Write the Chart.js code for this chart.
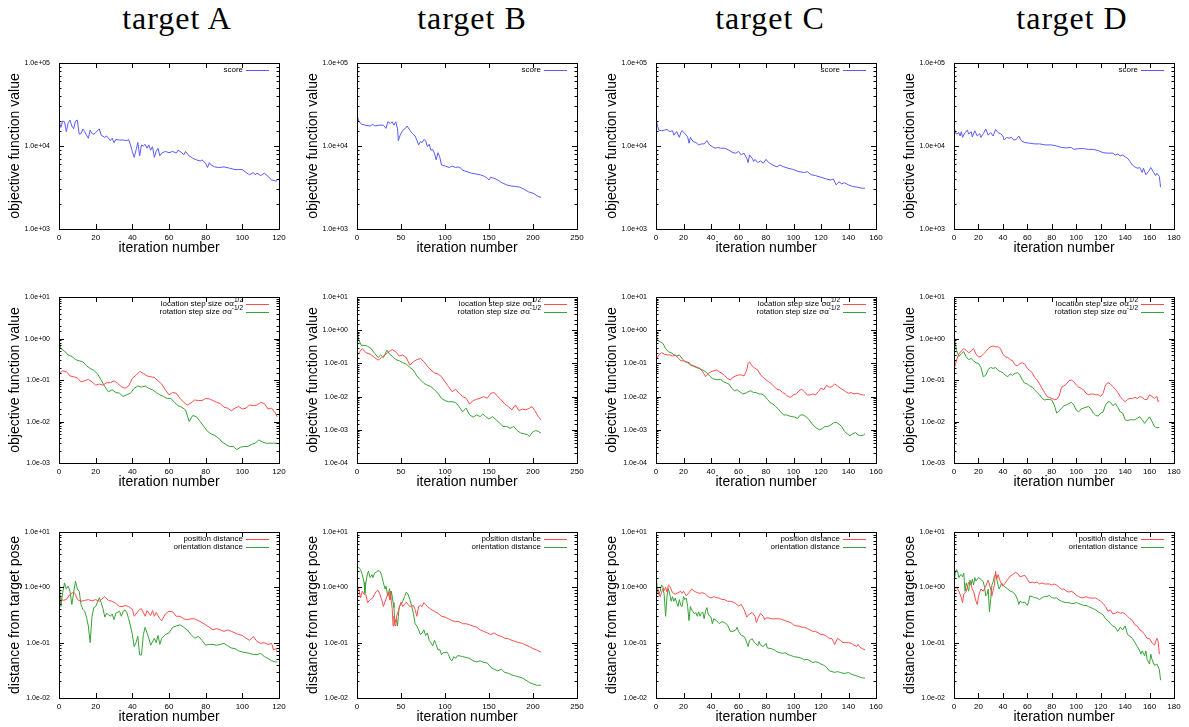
<!DOCTYPE html>
<html>
<head>
<meta charset="utf-8">
<script src="https://cdn.jsdelivr.net/npm/chart.js@4"></script>
<style>
  body { margin: 0; background: #fff; width: 1189px; height: 727px; overflow: hidden; position: relative; }
  canvas { position: absolute; }
  .head { position: absolute; top: 0; width: 200px; height: 36px; line-height: 36px; text-align: center;
          font-family: "Liberation Serif", serif; font-size: 32px; letter-spacing: 1px; color: #000; }
</style>
</head>
<body>
<div class="head" style="left:77px">target A</div>
<div class="head" style="left:372px">target B</div>
<div class="head" style="left:670px">target C</div>
<div class="head" style="left:972px">target D</div>
<script>
// ---- data: [iteration, value] ----

// row 1: score
const scoreA = [[0,20500],[1,16700],[2,20000],[3,19600],[4,14900],[5,19000],[6,20500],[7,17400],[8,16100],[9,20000],[10,20500],[11,13900],[12,14100],[13,16000],[14,14900],[15,13500],[16,12400],[17,15500],[18,14100],[19,13900],[20,14500],[22,16100],[23,13500],[25,12700],[26,13200],[28,11600],[29,12400],[30,11000],[31,12000],[33,11800],[35,11800],[37,11600],[38,12000],[39,10300],[40,8600],[41,7300],[42,8900],[43,11000],[44,7600],[45,10300],[46,10000],[47,10500],[48,9400],[49,10300],[50,8900],[51,9800],[52,7300],[53,8600],[54,9400],[55,7600],[56,8200],[58,8600],[60,8300],[62,8600],[64,8200],[65,8900],[67,8300],[68,7800],[69,8600],[71,7600],[73,7100],[75,6800],[77,6600],[78,6800],[80,6200],[81,5500],[82,6300],[83,5900],[85,5600],[87,5500],[90,5600],[93,5400],[96,5200],[98,5200],[100,5200],[102,4800],[104,4500],[106,4800],[107,4500],[108,4700],[110,4400],[112,4700],[114,4300],[116,3900],[118,3800],[119,3800]];
const scoreB = [[0,23500],[2,20000],[5,18300],[10,17800],[15,17400],[18,18300],[20,17400],[25,17800],[30,17800],[33,16300],[35,19600],[38,18700],[40,19600],[42,17800],[44,19600],[46,16300],[47,11600],[49,13500],[52,15500],[55,16300],[57,17400],[60,15500],[63,14100],[66,13200],[68,11800],[70,10300],[72,11300],[74,11000],[76,12000],[78,11600],[80,9800],[82,10500],[84,8900],[86,9100],[88,8200],[90,6800],[92,8300],[94,7400],[96,5900],[100,5750],[105,5500],[108,5750],[112,5500],[115,5600],[118,5400],[120,5100],[125,4900],[130,4700],[135,4600],[140,4500],[145,4300],[148,4100],[150,3900],[152,4200],[155,4100],[160,3900],[163,3700],[165,3600],[170,3400],[175,3300],[180,3250],[185,3200],[190,3000],[195,2800],[200,2700],[205,2500],[209,2400]];
const scoreC = [[0,21400],[1,17800],[2,15500],[4,15300],[6,15500],[8,15800],[10,14900],[12,15300],[13,13500],[15,14900],[17,12700],[18,14500],[19,15300],[21,14100],[23,12900],[24,10800],[25,12700],[27,11300],[29,11000],[31,10300],[33,10600],[35,10600],[37,11600],[39,10300],[41,9800],[43,9400],[45,9600],[47,9400],[50,9400],[53,8900],[56,8300],[58,8200],[60,8600],[62,7800],[64,8200],[66,7100],[67,6300],[68,7800],[70,7100],[71,6500],[72,6900],[74,6300],[76,6600],[78,6200],[80,6900],[82,6300],[85,5900],[88,5600],[90,5900],[93,5600],[96,5400],[100,5200],[104,4900],[108,4800],[110,4900],[113,4500],[116,4400],[120,4200],[124,4000],[127,3900],[129,4000],[131,3400],[133,3700],[135,3500],[137,3600],[140,3400],[143,3250],[146,3200],[150,3100],[152,3100]];
const scoreD = [[0,17400],[1,14900],[2,13900],[4,14500],[5,13200],[6,14900],[7,12700],[9,14500],[11,15500],[12,13900],[14,14900],[15,12900],[17,15300],[19,13200],[21,14100],[22,12700],[24,14100],[26,16000],[28,13500],[30,14500],[32,13200],[34,15800],[36,14500],[38,14100],[40,13200],[41,11800],[43,12700],[45,12400],[47,12700],[49,11800],[51,12000],[53,13200],[55,11600],[58,11000],[62,10800],[66,10600],[70,10600],[75,10300],[80,10300],[84,10000],[88,9600],[92,9500],[96,9600],[98,9100],[102,9300],[106,9300],[110,9100],[114,9100],[118,8800],[122,8300],[126,8200],[130,8200],[132,7800],[134,8000],[136,7600],[138,7800],[140,7400],[142,7100],[144,6500],[146,5900],[148,5600],[150,5400],[152,5500],[154,4800],[155,5400],[157,4500],[159,4900],[161,5500],[163,4900],[165,4400],[166,4700],[168,4300],[169,3200]];

// row 2: step sizes
const locA = [[0,0.145],[2,0.167],[4,0.16],[6,0.125],[8,0.12],[10,0.113],[12,0.09],[14,0.096],[16,0.104],[18,0.09],[20,0.075],[22,0.08],[24,0.075],[26,0.086],[28,0.086],[30,0.096],[32,0.083],[34,0.069],[36,0.063],[38,0.072],[40,0.11],[42,0.13],[44,0.16],[46,0.145],[48,0.125],[50,0.12],[52,0.115],[54,0.096],[56,0.08],[58,0.058],[60,0.044],[62,0.05],[64,0.048],[66,0.036],[68,0.029],[70,0.025],[72,0.028],[74,0.033],[76,0.032],[78,0.032],[80,0.036],[82,0.035],[84,0.032],[86,0.029],[88,0.027],[90,0.022],[92,0.021],[94,0.018],[96,0.021],[98,0.023],[100,0.02],[102,0.021],[104,0.025],[106,0.024],[108,0.025],[110,0.029],[112,0.027],[114,0.02],[116,0.021],[118,0.016],[119,0.013]];
const rotA = [[0,1.0],[1,0.57],[3,0.5],[5,0.4],[7,0.37],[9,0.31],[11,0.29],[13,0.275],[15,0.22],[17,0.19],[19,0.17],[21,0.14],[23,0.1],[25,0.069],[27,0.052],[29,0.058],[31,0.05],[33,0.048],[35,0.04],[37,0.044],[39,0.048],[41,0.063],[43,0.072],[45,0.067],[47,0.072],[49,0.063],[51,0.058],[53,0.05],[55,0.044],[57,0.04],[59,0.036],[61,0.036],[63,0.029],[65,0.024],[67,0.022],[69,0.019],[71,0.01],[73,0.014],[75,0.013],[77,0.01],[79,0.0076],[81,0.0058],[83,0.005],[85,0.0046],[87,0.004],[89,0.0032],[91,0.0028],[93,0.0025],[95,0.0025],[97,0.0021],[99,0.0024],[101,0.0025],[103,0.0025],[105,0.0028],[107,0.003],[109,0.0036],[111,0.0032],[113,0.003],[115,0.003],[117,0.003],[119,0.003]];
const locB = [[0,0.166],[3,0.224],[6,0.28],[10,0.21],[15,0.19],[20,0.15],[24,0.126],[28,0.15],[32,0.18],[36,0.224],[40,0.26],[44,0.224],[48,0.166],[52,0.18],[56,0.15],[60,0.089],[64,0.112],[68,0.13],[72,0.14],[76,0.112],[80,0.083],[84,0.063],[88,0.052],[92,0.048],[96,0.04],[100,0.028],[104,0.02],[108,0.014],[112,0.0166],[116,0.0126],[120,0.01],[124,0.0089],[128,0.006],[132,0.0076],[136,0.0083],[140,0.0089],[144,0.01],[148,0.0089],[152,0.0126],[156,0.0132],[160,0.01],[164,0.0079],[168,0.006],[172,0.005],[176,0.004],[180,0.0056],[184,0.0038],[188,0.0042],[192,0.004],[196,0.0045],[199,0.005],[202,0.0038],[206,0.0025],[209,0.002]];
const rotB = [[0,1.0],[2,0.5],[5,0.35],[8,0.35],[12,0.33],[16,0.28],[20,0.2],[24,0.15],[27,0.18],[30,0.15],[34,0.25],[37,0.19],[40,0.166],[44,0.13],[48,0.12],[52,0.105],[56,0.095],[60,0.076],[64,0.063],[68,0.042],[72,0.032],[76,0.025],[80,0.022],[84,0.02],[88,0.016],[92,0.0126],[96,0.0089],[100,0.0076],[104,0.007],[108,0.007],[112,0.0066],[116,0.005],[120,0.0035],[124,0.0045],[128,0.0028],[132,0.0024],[136,0.0028],[140,0.0025],[143,0.003],[146,0.0025],[150,0.0021],[154,0.0025],[158,0.002],[162,0.0016],[166,0.00126],[170,0.00126],[174,0.0011],[178,0.00126],[182,0.00095],[186,0.0008],[190,0.00076],[194,0.0007],[196,0.00063],[199,0.00083],[203,0.00095],[206,0.0009],[209,0.0008]];
const locC = [[0,0.13],[2,0.18],[4,0.21],[6,0.19],[8,0.18],[10,0.18],[12,0.166],[14,0.18],[16,0.15],[18,0.12],[20,0.12],[22,0.112],[24,0.105],[26,0.089],[28,0.083],[30,0.076],[32,0.071],[34,0.056],[36,0.04],[38,0.05],[40,0.056],[42,0.06],[44,0.063],[46,0.056],[48,0.05],[50,0.042],[52,0.035],[54,0.032],[56,0.038],[58,0.042],[60,0.045],[62,0.045],[64,0.042],[66,0.063],[67,0.1],[68,0.112],[70,0.083],[72,0.071],[74,0.063],[76,0.045],[78,0.038],[80,0.032],[82,0.028],[84,0.024],[86,0.02],[88,0.0166],[90,0.016],[92,0.0132],[94,0.012],[96,0.01],[98,0.0095],[100,0.0112],[102,0.012],[104,0.015],[106,0.0166],[108,0.014],[110,0.0112],[112,0.0112],[114,0.012],[116,0.0112],[118,0.014],[120,0.018],[122,0.016],[124,0.022],[126,0.019],[128,0.02],[130,0.024],[132,0.021],[134,0.018],[136,0.016],[138,0.014],[140,0.0126],[142,0.0132],[144,0.012],[146,0.0126],[148,0.012],[150,0.0112],[152,0.0112]];
const rotC = [[0,1.0],[1,0.5],[3,0.45],[5,0.4],[7,0.28],[9,0.224],[11,0.21],[13,0.18],[15,0.166],[17,0.18],[19,0.14],[21,0.112],[23,0.105],[25,0.089],[27,0.083],[29,0.076],[31,0.071],[33,0.066],[35,0.06],[37,0.052],[39,0.042],[41,0.035],[43,0.033],[45,0.032],[47,0.033],[49,0.028],[51,0.026],[53,0.024],[55,0.018],[57,0.015],[59,0.016],[61,0.014],[63,0.012],[65,0.0126],[67,0.014],[69,0.015],[71,0.0132],[73,0.0132],[75,0.012],[77,0.012],[79,0.0105],[81,0.0083],[83,0.0066],[85,0.006],[87,0.005],[89,0.0042],[91,0.0033],[93,0.0028],[95,0.0028],[97,0.0026],[99,0.0025],[101,0.0024],[103,0.0022],[105,0.0028],[107,0.0028],[109,0.0025],[111,0.0021],[113,0.0016],[115,0.0013],[117,0.0011],[119,0.001],[121,0.0011],[123,0.00126],[125,0.00126],[127,0.0014],[129,0.0016],[131,0.0017],[133,0.0015],[135,0.00126],[137,0.0009],[139,0.00076],[141,0.00066],[143,0.00076],[145,0.00083],[147,0.0007],[149,0.00066],[151,0.0007],[152,0.00076]];
const locD = [[0,0.174],[2,0.3],[4,0.42],[6,0.5],[8,0.57],[10,0.52],[12,0.45],[14,0.5],[16,0.57],[18,0.42],[20,0.36],[22,0.37],[24,0.42],[26,0.48],[28,0.57],[30,0.63],[32,0.66],[34,0.63],[36,0.63],[38,0.57],[40,0.42],[42,0.36],[44,0.35],[46,0.31],[48,0.29],[50,0.23],[52,0.22],[54,0.25],[56,0.26],[58,0.24],[60,0.19],[62,0.17],[64,0.15],[66,0.115],[68,0.1],[70,0.08],[72,0.063],[74,0.05],[76,0.04],[78,0.038],[80,0.036],[82,0.034],[84,0.034],[86,0.041],[88,0.067],[90,0.072],[92,0.08],[94,0.096],[96,0.1],[98,0.091],[100,0.076],[102,0.067],[104,0.063],[106,0.058],[108,0.048],[110,0.044],[112,0.046],[114,0.046],[116,0.044],[118,0.044],[120,0.04],[122,0.048],[124,0.076],[126,0.086],[128,0.08],[130,0.069],[132,0.06],[134,0.05],[136,0.04],[138,0.034],[140,0.03],[142,0.034],[144,0.036],[146,0.036],[148,0.038],[150,0.036],[152,0.04],[154,0.038],[156,0.034],[158,0.034],[160,0.044],[162,0.04],[164,0.036],[166,0.04],[167,0.03],[168,0.032]];
const rotD = [[0,1.3],[1,0.8],[2,0.52],[4,0.37],[6,0.43],[8,0.48],[10,0.36],[12,0.31],[14,0.33],[16,0.29],[18,0.26],[20,0.25],[22,0.2],[24,0.12],[26,0.13],[28,0.18],[30,0.2],[32,0.19],[34,0.2],[36,0.17],[38,0.16],[40,0.15],[42,0.13],[44,0.12],[46,0.14],[48,0.13],[50,0.145],[52,0.15],[54,0.13],[56,0.1],[58,0.083],[60,0.08],[62,0.072],[64,0.067],[66,0.058],[68,0.05],[70,0.044],[72,0.036],[74,0.033],[76,0.034],[78,0.034],[80,0.033],[82,0.025],[84,0.016],[86,0.018],[88,0.021],[90,0.024],[92,0.025],[94,0.027],[96,0.029],[98,0.025],[100,0.019],[102,0.017],[104,0.02],[106,0.021],[108,0.022],[110,0.023],[112,0.02],[114,0.016],[116,0.014],[118,0.0135],[120,0.016],[122,0.017],[124,0.025],[126,0.03],[128,0.029],[130,0.024],[132,0.027],[134,0.022],[136,0.017],[138,0.016],[140,0.011],[142,0.0105],[144,0.011],[146,0.011],[148,0.011],[150,0.012],[152,0.013],[154,0.011],[156,0.009],[158,0.011],[160,0.013],[162,0.01],[164,0.0076],[166,0.0071],[168,0.0071]];

// row 3: distance from target pose
const posA = [[0,0.695],[1,0.65],[2,0.58],[4,0.6],[6,0.75],[8,0.82],[9,0.75],[10,0.6],[12,0.56],[14,0.58],[16,0.6],[18,0.57],[20,0.6],[22,0.56],[24,0.64],[25,0.68],[27,0.58],[29,0.56],[31,0.51],[33,0.45],[35,0.45],[36,0.47],[38,0.45],[40,0.4],[41,0.3],[42,0.33],[44,0.4],[45,0.41],[46,0.35],[47,0.3],[48,0.38],[50,0.31],[51,0.38],[52,0.3],[53,0.35],[55,0.27],[56,0.25],[58,0.33],[60,0.37],[62,0.36],[64,0.3],[66,0.3],[68,0.27],[70,0.26],[72,0.27],[74,0.27],[76,0.25],[78,0.23],[80,0.21],[82,0.19],[84,0.17],[86,0.18],[88,0.17],[90,0.16],[92,0.17],[94,0.16],[96,0.15],[98,0.14],[100,0.135],[102,0.12],[104,0.11],[106,0.13],[108,0.105],[110,0.097],[112,0.1],[114,0.093],[116,0.097],[117,0.074],[118,0.078],[119,0.071]];
const oriA = [[0,1.7],[1,0.45],[2,0.8],[3,1.2],[4,0.93],[5,1.05],[6,0.85],[7,0.49],[8,0.8],[9,1.3],[10,0.93],[11,0.85],[12,0.49],[13,0.4],[14,0.37],[15,0.29],[16,0.2],[17,0.1],[18,0.3],[19,0.43],[20,0.45],[21,0.54],[22,0.65],[23,0.53],[24,0.41],[25,0.29],[26,0.34],[27,0.32],[28,0.3],[29,0.33],[30,0.26],[31,0.34],[33,0.37],[34,0.3],[35,0.37],[36,0.39],[37,0.35],[38,0.27],[39,0.2],[40,0.14],[41,0.085],[42,0.1],[43,0.13],[44,0.06],[45,0.06],[46,0.14],[47,0.19],[48,0.15],[49,0.12],[50,0.09],[52,0.12],[53,0.1],[54,0.135],[55,0.093],[56,0.12],[58,0.14],[60,0.15],[62,0.19],[64,0.2],[66,0.21],[68,0.19],[70,0.17],[72,0.14],[74,0.12],[76,0.13],[78,0.11],[80,0.09],[82,0.093],[84,0.093],[86,0.09],[88,0.093],[90,0.097],[92,0.088],[94,0.08],[96,0.078],[98,0.071],[100,0.068],[102,0.066],[104,0.064],[106,0.061],[108,0.061],[110,0.064],[112,0.056],[114,0.052],[116,0.047],[118,0.045],[119,0.045]];
const posB = [[0,1.1],[2,0.93],[4,0.65],[6,0.85],[8,0.75],[10,0.75],[12,0.53],[15,0.6],[18,0.65],[20,0.75],[22,0.85],[24,0.88],[26,0.75],[28,0.6],[30,0.45],[32,0.56],[34,0.68],[35,0.8],[36,0.82],[37,0.6],[38,0.85],[39,0.56],[40,0.41],[41,0.2],[42,0.3],[43,0.21],[44,0.2],[45,0.3],[46,0.33],[48,0.43],[50,0.54],[52,0.45],[54,0.49],[56,0.54],[58,0.49],[60,0.45],[62,0.46],[64,0.47],[66,0.4],[68,0.3],[70,0.45],[72,0.47],[74,0.45],[76,0.53],[78,0.49],[80,0.45],[84,0.4],[88,0.37],[92,0.34],[96,0.3],[100,0.29],[104,0.27],[108,0.25],[112,0.24],[116,0.24],[120,0.22],[124,0.22],[128,0.21],[132,0.2],[136,0.19],[140,0.17],[144,0.16],[148,0.15],[152,0.14],[156,0.15],[160,0.135],[164,0.13],[168,0.12],[172,0.118],[176,0.11],[180,0.105],[184,0.1],[188,0.097],[192,0.09],[196,0.085],[200,0.078],[204,0.074],[206,0.071],[209,0.068]];
const oriB = [[0,2.2],[2,2.3],[4,2.1],[6,1.7],[8,1.25],[9,0.78],[10,1.2],[12,1.8],[13,1.95],[15,1.5],[17,1.7],[18,1.5],[20,1.8],[22,1.9],[24,2.0],[26,1.95],[28,1.65],[30,1.2],[32,0.93],[33,1.05],[35,0.69],[36,0.8],[37,0.95],[38,0.6],[39,0.85],[40,0.69],[41,0.53],[42,0.43],[43,0.23],[44,0.26],[45,0.26],[46,0.2],[47,0.3],[48,0.45],[50,0.49],[52,0.56],[54,0.68],[56,0.82],[58,0.75],[60,0.6],[62,0.47],[64,0.34],[66,0.22],[68,0.2],[70,0.17],[72,0.14],[74,0.15],[76,0.17],[78,0.135],[80,0.15],[82,0.11],[84,0.1],[86,0.088],[88,0.11],[90,0.093],[92,0.074],[94,0.075],[96,0.061],[98,0.066],[100,0.066],[102,0.068],[104,0.061],[106,0.05],[108,0.047],[110,0.056],[112,0.052],[114,0.058],[116,0.058],[120,0.056],[124,0.054],[128,0.052],[132,0.047],[136,0.045],[140,0.047],[144,0.044],[148,0.043],[152,0.036],[156,0.033],[160,0.031],[164,0.033],[168,0.029],[172,0.028],[176,0.026],[180,0.025],[184,0.024],[188,0.023],[192,0.021],[196,0.019],[200,0.018],[204,0.017],[206,0.017],[209,0.017]];
const posC = [[0,0.93],[1,1.0],[2,0.78],[3,0.68],[4,0.8],[5,0.95],[6,0.88],[7,1.0],[8,0.82],[9,1.1],[10,1.05],[11,0.93],[12,0.8],[14,0.75],[16,0.8],[18,0.85],[19,0.78],[20,0.85],[21,0.78],[22,0.7],[24,0.8],[26,0.93],[28,0.85],[30,0.8],[32,0.78],[34,0.8],[36,0.75],[38,0.68],[40,0.64],[42,0.68],[44,0.65],[46,0.64],[48,0.6],[50,0.6],[52,0.56],[54,0.56],[56,0.54],[58,0.51],[60,0.46],[62,0.49],[64,0.4],[66,0.29],[68,0.33],[70,0.35],[72,0.3],[73,0.23],[74,0.27],[76,0.34],[78,0.3],[79,0.26],[80,0.28],[82,0.28],[84,0.27],[86,0.27],[88,0.27],[90,0.27],[92,0.26],[94,0.25],[96,0.24],[98,0.23],[100,0.21],[102,0.2],[104,0.2],[106,0.19],[108,0.19],[110,0.18],[112,0.17],[114,0.16],[116,0.16],[118,0.15],[120,0.14],[122,0.14],[124,0.13],[126,0.12],[128,0.118],[130,0.093],[131,0.105],[132,0.12],[134,0.11],[136,0.1],[138,0.1],[140,0.1],[142,0.097],[144,0.09],[146,0.085],[147,0.093],[148,0.085],[150,0.078],[152,0.074]];
const oriC = [[0,1.95],[1,0.85],[2,0.75],[3,0.85],[4,1.1],[5,1.05],[6,0.71],[7,0.3],[8,0.7],[9,0.95],[10,0.75],[11,0.56],[12,0.68],[13,0.56],[14,0.64],[15,0.53],[16,0.45],[17,0.6],[18,0.47],[19,0.45],[20,0.68],[21,0.6],[22,0.64],[23,0.45],[24,0.25],[25,0.45],[26,0.39],[27,0.36],[28,0.33],[29,0.35],[30,0.3],[31,0.36],[32,0.3],[33,0.34],[34,0.36],[35,0.27],[36,0.37],[37,0.43],[38,0.33],[39,0.3],[40,0.29],[41,0.22],[42,0.27],[44,0.25],[46,0.22],[48,0.24],[50,0.23],[52,0.21],[54,0.16],[56,0.16],[58,0.17],[59,0.19],[60,0.16],[62,0.135],[64,0.13],[65,0.118],[66,0.1],[67,0.085],[68,0.11],[70,0.118],[71,0.105],[72,0.1],[74,0.088],[75,0.105],[76,0.09],[78,0.085],[80,0.097],[81,0.08],[84,0.078],[86,0.074],[88,0.068],[90,0.066],[92,0.064],[94,0.066],[96,0.061],[98,0.059],[100,0.056],[104,0.054],[106,0.052],[108,0.049],[110,0.05],[112,0.047],[114,0.044],[116,0.045],[118,0.044],[120,0.041],[122,0.039],[124,0.036],[126,0.031],[128,0.03],[130,0.029],[132,0.03],[134,0.029],[136,0.028],[138,0.028],[140,0.029],[142,0.027],[144,0.026],[146,0.025],[148,0.024],[150,0.023],[152,0.023]];
const posD = [[0,0.93],[2,1.0],[4,0.85],[6,0.65],[7,0.53],[8,0.75],[10,0.85],[12,1.25],[14,1.1],[15,0.93],[16,0.85],[18,0.56],[19,0.49],[20,0.68],[22,0.93],[24,0.85],[26,1.05],[28,1.35],[30,0.93],[31,0.7],[33,1.1],[34,1.95],[35,1.4],[36,1.7],[38,1.25],[40,1.05],[42,1.2],[44,1.4],[46,1.6],[48,1.7],[50,1.85],[52,1.8],[54,1.55],[56,1.6],[58,1.65],[60,1.4],[62,1.2],[64,1.25],[66,1.2],[68,1.25],[70,1.15],[72,1.2],[74,1.15],[76,1.15],[78,1.15],[80,1.1],[82,1.15],[84,1.1],[86,1.0],[88,0.93],[90,0.93],[92,0.85],[94,0.82],[96,0.85],[98,0.8],[100,0.72],[102,0.68],[104,0.65],[106,0.65],[108,0.68],[110,0.65],[112,0.64],[114,0.64],[116,0.64],[118,0.6],[120,0.56],[122,0.51],[124,0.45],[126,0.37],[128,0.39],[130,0.33],[132,0.34],[134,0.36],[136,0.34],[138,0.35],[140,0.33],[142,0.3],[144,0.27],[146,0.25],[148,0.21],[150,0.2],[152,0.17],[154,0.16],[156,0.14],[158,0.12],[160,0.118],[162,0.1],[164,0.09],[166,0.12],[167,0.105],[168,0.062]];
const oriD = [[0,1.1],[1,1.8],[2,2.1],[3,1.9],[4,1.5],[5,1.65],[6,1.7],[7,1.55],[8,1.8],[9,0.85],[10,1.2],[11,1.0],[12,0.85],[13,1.35],[14,1.1],[15,1.4],[16,1.1],[17,1.5],[18,1.3],[20,1.5],[22,1.4],[24,1.25],[25,1.0],[26,0.7],[27,0.75],[28,0.93],[29,0.36],[30,0.6],[31,1.1],[32,1.25],[33,1.6],[34,1.7],[35,1.4],[36,1.1],[37,0.93],[38,1.05],[39,1.2],[40,1.1],[42,1.0],[44,0.93],[46,0.85],[48,0.82],[50,0.75],[52,0.6],[53,0.49],[54,0.56],[56,0.53],[58,0.54],[60,0.47],[61,0.54],[62,0.7],[64,0.68],[66,0.65],[68,0.64],[70,0.6],[72,0.65],[74,0.68],[76,0.68],[78,0.72],[80,0.65],[82,0.64],[84,0.64],[86,0.59],[88,0.56],[90,0.54],[92,0.53],[94,0.53],[96,0.51],[98,0.51],[100,0.53],[102,0.51],[104,0.49],[106,0.47],[108,0.47],[110,0.45],[112,0.43],[114,0.41],[116,0.39],[118,0.36],[120,0.34],[122,0.32],[124,0.27],[126,0.25],[128,0.22],[130,0.2],[132,0.19],[134,0.16],[136,0.19],[138,0.17],[140,0.2],[142,0.14],[144,0.13],[146,0.12],[148,0.1],[150,0.085],[152,0.071],[153,0.062],[154,0.071],[156,0.058],[157,0.071],[158,0.05],[160,0.041],[161,0.062],[162,0.05],[164,0.039],[166,0.041],[168,0.033],[169,0.021]];

// x axis extents per target column
const xMaxes = [120, 250, 160, 180];
const xSteps = [20, 50, 20, 20];

const BLUE = '#5a5aff';
const RED = '#ff4d4d';
const GREEN = '#35a335';
const FONT = '"Liberation Sans", Arial, sans-serif';

function isPow10(v) {
  const l = Math.log10(v);
  return Math.abs(l - Math.round(l)) < 1e-9;
}

function expLabel(v) {
  const e = Math.round(Math.log10(v));
  return '1.0e' + (e < 0 ? '-' : '+') + String(Math.abs(e)).padStart(2, '0');
}

// gnuplot-ish box with inward ticks on all four sides, decade labels on the left
const frame = {
  id: 'frame',
  afterDatasetsDraw(chart) {
    const { ctx, chartArea: a, scales: { x, y } } = chart;
    ctx.save();
    ctx.strokeStyle = '#000';
    ctx.lineWidth = 1;
    ctx.beginPath();
    x.ticks.forEach(t => {
      const px = Math.round(x.getPixelForValue(t.value)) + 0.5;
      ctx.moveTo(px, a.bottom); ctx.lineTo(px, a.bottom - 5);
      ctx.moveTo(px, a.top); ctx.lineTo(px, a.top + 5);
    });
    ctx.fillStyle = '#000';
    ctx.font = '7px ' + FONT;
    ctx.textAlign = 'right';
    ctx.textBaseline = 'middle';
    y.ticks.forEach(t => {
      const major = isPow10(t.value);
      const len = major ? 5 : 2.5;
      const py = Math.round(y.getPixelForValue(t.value)) + 0.5;
      ctx.moveTo(a.left, py); ctx.lineTo(a.left + len, py);
      ctx.moveTo(a.right, py); ctx.lineTo(a.right - len, py);
      if (major) ctx.fillText(expLabel(t.value), a.left - 9, py);
    });
    ctx.stroke();
    ctx.strokeRect(Math.round(a.left) + 0.5, Math.round(a.top) + 0.5,
      Math.round(a.right - a.left), Math.round(a.bottom - a.top));
    ctx.restore();
  }
};

// key in the top right corner, text then a short line sample
function makeKey(entries) {
  return {
    id: 'keyBox',
    afterDraw(chart) {
      const { ctx, chartArea: a } = chart;
      ctx.save();
      ctx.textBaseline = 'middle';
      entries.forEach((s, i) => {
        const yy = a.top + 6.5 + i * 8;
        let xEnd = a.right - 36;
        ctx.fillStyle = '#000';
        if (s.sup) {
          ctx.font = '6.5px ' + FONT;
          const w = ctx.measureText(s.sup).width;
          ctx.textAlign = 'left';
          ctx.fillText(s.sup, xEnd - w, yy - 3.5);
          xEnd -= w;
        }
        ctx.font = '8px ' + FONT;
        ctx.textAlign = 'right';
        ctx.fillText(s.label, xEnd, yy);
        ctx.strokeStyle = s.color;
        ctx.lineWidth = 1;
        ctx.beginPath();
        ctx.moveTo(a.right - 33, Math.round(yy) + 0.5);
        ctx.lineTo(a.right - 10, Math.round(yy) + 0.5);
        ctx.stroke();
      });
      ctx.restore();
    }
  };
}

Chart.defaults.font.family = FONT;
Chart.defaults.color = '#000';

const rows = [
  { yMins: [1e3, 1e3, 1e3, 1e3], yMax: 1e5, yTitle: 'objective function value',
    series: [{ label: 'score', color: BLUE, data: [scoreA, scoreB, scoreC, scoreD] }] },
  { yMins: [1e-3, 1e-4, 1e-4, 1e-3], yMax: 1e1, yTitle: 'objective function value',
    series: [
      { label: 'location step size \u03c3\u03b1', sup: '1/2', color: RED, data: [locA, locB, locC, locD] },
      { label: 'rotation step size \u03c3\u03b1', sup: '-1/2', color: GREEN, data: [rotA, rotB, rotC, rotD] }
    ] },
  { yMins: [1e-2, 1e-2, 1e-2, 1e-2], yMax: 1e1, yTitle: 'distance from target pose',
    series: [
      { label: 'position distance', color: RED, data: [posA, posB, posC, posD] },
      { label: 'orientation distance', color: GREEN, data: [oriA, oriB, oriC, oriD] }
    ] }
];

const colLeft = [0, 298, 597, 895];
const rowTop = [55, 289, 524];

rows.forEach((row, r) => {
  for (let c = 0; c < 4; c++) {
    const canvas = document.createElement('canvas');
    canvas.width = 290;
    canvas.height = 206;
    canvas.style.left = colLeft[c] + 'px';
    canvas.style.top = rowTop[r] + 'px';
    document.body.appendChild(canvas);

    const datasets = row.series.map(s => ({
      label: s.label,
      data: s.data[c].map(([x, y]) => ({ x, y })),
      borderColor: s.color,
      borderWidth: 1,
      pointRadius: 0,
      tension: 0,
      fill: false
    }));

    new Chart(canvas, {
      type: 'line',
      data: { datasets },
      options: {
        responsive: false,
        animation: false,
        events: [],
        layout: { padding: { top: 8, right: 11, bottom: 4, left: 0 } },
        scales: {
          x: {
            type: 'linear',
            min: 0,
            max: xMaxes[c],
            afterFit: s => { s.height = 28; },
            grid: { display: false, drawTicks: false },
            border: { display: false },
            ticks: { stepSize: xSteps[c], autoSkip: false, maxRotation: 0, padding: 4, font: { size: 8 }, color: '#000' },
            title: { display: true, text: 'iteration number', font: { size: 14 }, color: '#000', padding: { top: 0, bottom: 0 } }
          },
          y: {
            type: 'logarithmic',
            min: row.yMins[c],
            max: row.yMax,
            afterFit: s => { s.width = 59; },
            grid: { display: false, drawTicks: false },
            border: { display: false },
            ticks: { display: false, autoSkip: false },
            title: { display: true, text: row.yTitle, font: { size: 14 }, color: '#000', padding: { top: 7, bottom: 0 } }
          }
        },
        plugins: { legend: { display: false }, tooltip: { enabled: false } }
      },
      plugins: [frame, makeKey(row.series)]
    });
  }
});
</script>
</body>
</html>
